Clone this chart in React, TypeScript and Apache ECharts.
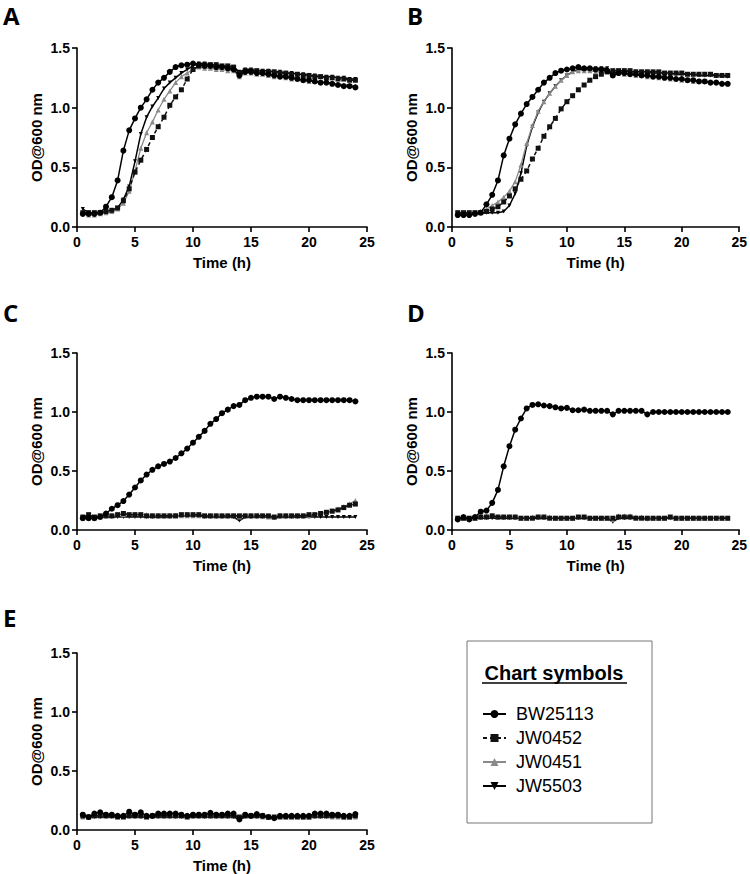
import React, { useEffect, useRef } from "react";
import * as echarts from "echarts";

const TIME = [0.5,1,1.5,2,2.5,3,3.5,4,4.5,5,5.5,6,6.5,7,7.5,8,8.5,9,9.5,10,10.5,11,11.5,12,12.5,13,13.5,14,14.5,15,15.5,16,16.5,17,17.5,18,18.5,19,19.5,20,20.5,21,21.5,22,22.5,23,23.5,24];

const STRAINS = ["BW25113", "JW0452", "JW0451", "JW5503"];
const PANELS = ["A", "B", "C", "D", "E"];
const X_TICKS = [0, 5, 10, 15, 20, 25];
const Y_TICKS = [0, 0.5, 1.0, 1.5];

// Panel A
const A_BW25113 = [0.11,0.11,0.11,0.12,0.17,0.25,0.39,0.64,0.81,0.91,1.00,1.07,1.15,1.21,1.25,1.30,1.34,1.355,1.36,1.37,1.36,1.35,1.35,1.34,1.34,1.33,1.32,1.27,1.30,1.30,1.29,1.29,1.28,1.27,1.26,1.26,1.25,1.24,1.23,1.23,1.22,1.21,1.21,1.20,1.19,1.18,1.18,1.17];
const A_JW0452 = [0.12,0.12,0.12,0.12,0.13,0.14,0.16,0.22,0.32,0.46,0.56,0.65,0.75,0.84,0.92,1.02,1.09,1.15,1.24,1.32,1.35,1.36,1.36,1.36,1.35,1.35,1.34,1.29,1.31,1.31,1.31,1.30,1.30,1.30,1.29,1.29,1.28,1.28,1.27,1.27,1.26,1.26,1.25,1.25,1.24,1.24,1.23,1.23];
const A_JW0451 = [0.11,0.10,0.10,0.11,0.12,0.13,0.15,0.20,0.30,0.47,0.66,0.79,0.88,0.98,1.07,1.14,1.21,1.26,1.29,1.32,1.34,1.33,1.33,1.32,1.32,1.31,1.31,1.26,1.29,1.29,1.28,1.28,1.27,1.26,1.26,1.25,1.24,1.24,1.23,1.22,1.22,1.21,1.21,1.20,1.20,1.19,1.19,1.18];
const A_JW5503 = [0.15,0.12,0.12,0.12,0.13,0.14,0.16,0.23,0.34,0.55,0.78,0.92,1.01,1.08,1.16,1.21,1.25,1.29,1.32,1.35,1.37,1.37,1.36,1.36,1.35,1.35,1.34,1.30,1.32,1.32,1.31,1.31,1.31,1.30,1.30,1.29,1.29,1.28,1.28,1.27,1.27,1.26,1.26,1.26,1.25,1.25,1.24,1.24];

// Panel B
const B_BW25113 = [0.10,0.10,0.10,0.11,0.12,0.19,0.27,0.39,0.60,0.74,0.86,0.95,1.03,1.09,1.15,1.21,1.25,1.29,1.31,1.32,1.33,1.34,1.33,1.33,1.32,1.32,1.31,1.27,1.29,1.29,1.28,1.28,1.27,1.27,1.26,1.26,1.25,1.25,1.24,1.24,1.23,1.23,1.22,1.22,1.21,1.21,1.20,1.20];
const B_JW0452 = [0.12,0.12,0.12,0.12,0.12,0.13,0.15,0.17,0.21,0.26,0.32,0.40,0.47,0.57,0.66,0.76,0.84,0.91,0.99,1.05,1.10,1.15,1.19,1.23,1.26,1.28,1.30,1.31,1.31,1.31,1.31,1.30,1.30,1.30,1.30,1.30,1.29,1.29,1.29,1.29,1.28,1.28,1.28,1.28,1.28,1.27,1.27,1.27];
const B_JW0451 = [0.11,0.11,0.11,0.12,0.13,0.15,0.18,0.21,0.25,0.30,0.38,0.52,0.70,0.85,0.97,1.05,1.12,1.18,1.23,1.27,1.30,1.31,1.31,1.31,1.30,1.30,1.30,1.27,1.29,1.28,1.28,1.27,1.27,1.26,1.26,1.25,1.25,1.24,1.24,1.23,1.23,1.22,1.22,1.22,1.21,1.21,1.21,1.20];
const B_JW5503 = [0.11,0.11,0.11,0.11,0.12,0.12,0.12,0.12,0.13,0.18,0.28,0.45,0.68,0.84,0.96,1.05,1.12,1.18,1.23,1.27,1.30,1.32,1.32,1.33,1.33,1.33,1.33,1.28,1.31,1.31,1.30,1.30,1.30,1.30,1.29,1.29,1.29,1.29,1.28,1.28,1.28,1.28,1.27,1.27,1.27,1.27,1.27,1.26];

// Panel C
const C_BW25113 = [0.10,0.10,0.10,0.11,0.14,0.18,0.21,0.245,0.30,0.36,0.42,0.47,0.51,0.54,0.56,0.58,0.61,0.65,0.69,0.74,0.79,0.84,0.90,0.94,0.99,1.02,1.05,1.06,1.10,1.12,1.13,1.13,1.13,1.11,1.13,1.12,1.11,1.10,1.10,1.10,1.10,1.10,1.10,1.10,1.10,1.10,1.10,1.09];
const C_JW0452 = [0.11,0.13,0.11,0.12,0.12,0.12,0.13,0.14,0.13,0.13,0.13,0.12,0.12,0.12,0.12,0.12,0.12,0.13,0.13,0.13,0.13,0.12,0.12,0.12,0.12,0.12,0.12,0.12,0.12,0.12,0.12,0.12,0.12,0.11,0.12,0.12,0.12,0.12,0.12,0.13,0.13,0.14,0.15,0.16,0.17,0.19,0.21,0.22];
const C_JW0451 = [0.10,0.10,0.10,0.11,0.12,0.12,0.13,0.13,0.13,0.13,0.13,0.13,0.12,0.12,0.12,0.12,0.12,0.12,0.12,0.12,0.12,0.12,0.12,0.12,0.12,0.12,0.12,0.11,0.12,0.12,0.12,0.12,0.11,0.11,0.12,0.12,0.12,0.12,0.12,0.12,0.13,0.14,0.15,0.16,0.18,0.20,0.22,0.25];
const C_JW5503 = [0.11,0.11,0.11,0.11,0.11,0.11,0.11,0.11,0.11,0.11,0.11,0.11,0.11,0.11,0.11,0.11,0.12,0.12,0.12,0.12,0.12,0.11,0.11,0.11,0.11,0.11,0.11,0.08,0.11,0.11,0.11,0.11,0.11,0.10,0.11,0.11,0.11,0.11,0.11,0.11,0.11,0.11,0.11,0.11,0.11,0.11,0.11,0.11];

// Panel D
const D_BW25113 = [0.09,0.11,0.09,0.11,0.155,0.165,0.23,0.34,0.54,0.71,0.85,0.945,1.03,1.06,1.065,1.055,1.05,1.04,1.03,1.035,1.015,1.015,1.02,1.01,1.01,1.01,1.01,0.98,1.01,1.01,1.01,1.01,1.01,0.98,1.00,1.00,1.00,1.00,1.00,1.00,1.00,1.00,1.00,1.00,1.00,1.00,1.00,1.00];
const D_JW0452 = [0.10,0.10,0.10,0.10,0.11,0.11,0.12,0.11,0.11,0.11,0.11,0.10,0.10,0.10,0.11,0.11,0.10,0.10,0.10,0.10,0.10,0.11,0.11,0.10,0.10,0.10,0.10,0.10,0.11,0.11,0.11,0.10,0.10,0.10,0.10,0.10,0.10,0.11,0.10,0.10,0.10,0.10,0.10,0.10,0.10,0.10,0.10,0.10];
const D_JW0451 = [0.10,0.10,0.10,0.10,0.11,0.12,0.12,0.11,0.11,0.11,0.11,0.10,0.10,0.11,0.11,0.11,0.11,0.10,0.10,0.10,0.10,0.11,0.11,0.10,0.10,0.10,0.10,0.09,0.12,0.12,0.12,0.11,0.11,0.10,0.10,0.10,0.10,0.11,0.10,0.10,0.10,0.10,0.10,0.10,0.10,0.10,0.10,0.10];
const D_JW5503 = [0.10,0.10,0.10,0.10,0.10,0.10,0.10,0.10,0.10,0.10,0.10,0.10,0.10,0.10,0.10,0.10,0.10,0.10,0.10,0.10,0.10,0.10,0.10,0.10,0.10,0.10,0.10,0.07,0.10,0.10,0.10,0.10,0.10,0.09,0.10,0.10,0.10,0.10,0.10,0.10,0.10,0.10,0.10,0.10,0.10,0.10,0.10,0.10];

// Panel E
const E_BW25113 = [0.13,0.11,0.14,0.15,0.13,0.13,0.12,0.12,0.155,0.13,0.15,0.12,0.12,0.14,0.14,0.14,0.14,0.13,0.12,0.13,0.13,0.13,0.145,0.13,0.13,0.14,0.14,0.09,0.13,0.12,0.135,0.12,0.11,0.10,0.12,0.12,0.12,0.12,0.12,0.12,0.14,0.14,0.14,0.13,0.13,0.12,0.12,0.135];
const E_JW0452 = [0.12,0.11,0.12,0.12,0.12,0.12,0.11,0.11,0.12,0.12,0.12,0.11,0.12,0.12,0.12,0.12,0.12,0.12,0.11,0.12,0.12,0.12,0.12,0.12,0.12,0.12,0.12,0.11,0.12,0.12,0.12,0.12,0.11,0.11,0.11,0.11,0.11,0.11,0.11,0.11,0.12,0.12,0.12,0.12,0.12,0.11,0.11,0.12];
const E_JW0451 = [0.11,0.11,0.12,0.13,0.12,0.13,0.12,0.12,0.12,0.12,0.12,0.12,0.12,0.13,0.12,0.12,0.12,0.12,0.12,0.12,0.12,0.12,0.12,0.12,0.12,0.12,0.12,0.10,0.12,0.12,0.12,0.11,0.11,0.11,0.12,0.12,0.12,0.12,0.11,0.11,0.12,0.12,0.12,0.11,0.11,0.11,0.11,0.11];
const E_JW5503 = [0.11,0.11,0.11,0.11,0.11,0.11,0.11,0.11,0.11,0.11,0.11,0.11,0.11,0.11,0.11,0.11,0.11,0.11,0.11,0.11,0.11,0.11,0.11,0.11,0.11,0.11,0.11,0.09,0.11,0.11,0.11,0.11,0.11,0.10,0.11,0.11,0.11,0.11,0.11,0.11,0.11,0.11,0.11,0.11,0.11,0.11,0.11,0.11];

const PANEL_DATA = [
  [A_BW25113, A_JW0452, A_JW0451, A_JW5503],
  [B_BW25113, B_JW0452, B_JW0451, B_JW5503],
  [C_BW25113, C_JW0452, C_JW0451, C_JW5503],
  [D_BW25113, D_JW0452, D_JW0451, D_JW5503],
  [E_BW25113, E_JW0452, E_JW0451, E_JW5503],
];

const GRIDS = [
  { left: 77, top: 48, width: 290, height: 179 },
  { left: 452, top: 48, width: 290, height: 179 },
  { left: 77, top: 353, width: 290, height: 177 },
  { left: 452, top: 353, width: 290, height: 177 },
  { left: 77, top: 653, width: 290, height: 177 },
];
const LETTER_POS = [
  { x: 3, y: 15 },
  { x: 407, y: 15 },
  { x: 3, y: 312 },
  { x: 407, y: 312 },
  { x: 3, y: 617 },
];

const STYLES: any[] = [
  { color: "#000", symbol: "circle", symbolSize: 6, lineStyle: { width: 1.5, type: "solid" } },
  { color: "#111", symbol: "rect", symbolSize: 5, lineStyle: { width: 1.5, type: [4, 3] } },
  { color: "#8a8a8a", symbol: "triangle", symbolSize: 5, lineStyle: { width: 1.3, type: "solid" } },
  { color: "#000", symbol: "triangle", symbolSize: 4, symbolRotate: 180, lineStyle: { width: 1.5, type: "solid" } },
];

const FONT = "'Liberation Sans', Arial, sans-serif";

export default function App() {
  const ref = useRef<HTMLDivElement>(null);
  useEffect(() => {
    document.body.style.margin = "0";
    const chart = echarts.init(ref.current!, null, { renderer: "svg" });
    const axisLine = { show: true, lineStyle: { color: "#000", width: 1.6 } };
    const axisTick = { show: true, length: 5, lineStyle: { color: "#000", width: 1.6 } };
    const labelStyle = { color: "#000", fontWeight: "bold", fontSize: 14, fontFamily: FONT };
    const xAxis = GRIDS.map((_, i) => ({
      type: "value",
      gridIndex: i,
      min: X_TICKS[0],
      max: X_TICKS[X_TICKS.length - 1],
      interval: 5,
      axisLine,
      axisTick,
      splitLine: { show: false },
      axisLabel: { ...labelStyle, margin: 8 },
      name: "Time (h)",
      nameLocation: "middle",
      nameGap: 28,
      nameTextStyle: { color: "#000", fontWeight: "bold", fontSize: 15, fontFamily: FONT },
    }));
    const yAxis = GRIDS.map((_, i) => ({
      type: "value",
      gridIndex: i,
      min: Y_TICKS[0],
      max: Y_TICKS[Y_TICKS.length - 1],
      interval: 0.5,
      axisLine,
      axisTick,
      splitLine: { show: false },
      axisLabel: { ...labelStyle, margin: 7, formatter: (v: number) => v.toFixed(1) },
      name: "OD@600 nm",
      nameLocation: "middle",
      nameGap: 33,
      nameTextStyle: { color: "#000", fontWeight: "bold", fontSize: 15, fontFamily: FONT },
    }));
    const series: any[] = [];
    PANEL_DATA.forEach((panel, p) => {
      panel.forEach((vals, s) => {
        const st = STYLES[s];
        series.push({
          type: "line",
          name: STRAINS[s],
          xAxisIndex: p,
          yAxisIndex: p,
          data: TIME.map((t, i) => [t, vals[i]]),
          symbol: st.symbol,
          symbolSize: st.symbolSize,
          symbolRotate: st.symbolRotate || 0,
          showAllSymbol: true,
          itemStyle: { color: st.color },
          lineStyle: { color: st.color, ...st.lineStyle },
          z: 4 - s,
        });
      });
    });
    const graphic: any[] = PANELS.map((l, i) => ({
      type: "text",
      x: LETTER_POS[i].x,
      y: LETTER_POS[i].y,
      style: {
        text: l,
        fill: "#000",
        font: "bold 24px 'Open Sans', sans-serif",
        lineHeight: 24,
        textVerticalAlign: "middle",
      },
    }));
    graphic.push(
      {
        type: "rect",
        shape: { x: 467, y: 641, width: 185, height: 182 },
        style: { fill: "#fff", stroke: "#777", lineWidth: 1 },
        z: -1,
      },
      {
        type: "text",
        x: 554,
        y: 673,
        style: {
          text: "Chart symbols",
          fill: "#000",
          font: `bold 20px ${FONT}`,
          textAlign: "center",
          textVerticalAlign: "middle",
        },
      },
      {
        type: "line",
        shape: { x1: 482, y1: 683, x2: 627, y2: 683 },
        style: { stroke: "#000", lineWidth: 1.5 },
      }
    );
    chart.setOption({
      animation: false,
      backgroundColor: "#fff",
      grid: GRIDS.map((g) => ({ ...g, containLabel: false })),
      xAxis,
      yAxis,
      series,
      legend: {
        data: STRAINS,
        orient: "vertical",
        left: 477,
        top: 700,
        itemWidth: 23,
        itemHeight: 10,
        itemGap: 6,
        textStyle: { color: "#000", fontSize: 18, fontFamily: FONT, lineHeight: 18, padding: [0, 0, 0, 5] },
        selectedMode: false,
      },
      graphic,
    });
    return () => chart.dispose();
  }, []);
  return <div ref={ref} style={{ width: 750, height: 874 }} />;
}
